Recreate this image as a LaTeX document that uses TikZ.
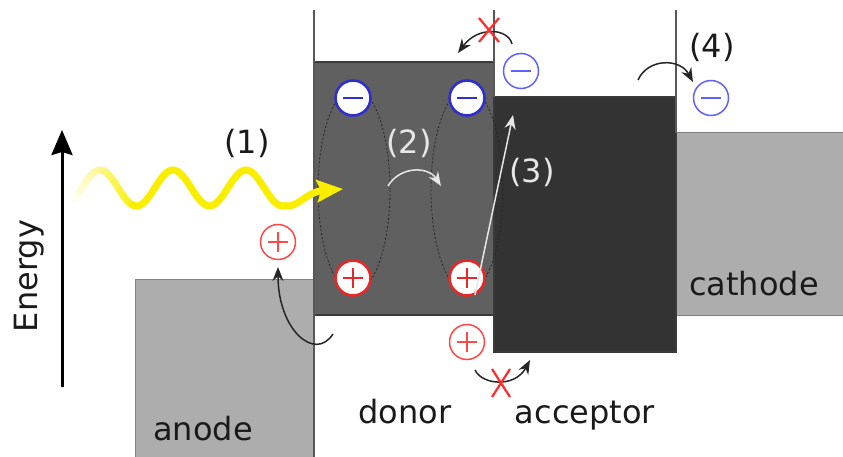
\documentclass[tikz,border=0pt]{standalone}
\usepackage{fontspec}
\setmainfont{DejaVu Sans}
\usetikzlibrary{arrows.meta}
\definecolor{donorc}{HTML}{606060}
\definecolor{accc}{HTML}{333333}
\definecolor{electrode}{HTML}{ADADAD}
\definecolor{edge}{HTML}{3A3A3A}
\definecolor{wave}{RGB}{250,238,0}
\definecolor{negc}{HTML}{2F2FD0}
\definecolor{negl}{HTML}{6060FF}
\definecolor{posc}{HTML}{E82828}
\definecolor{posl}{HTML}{FF4848}
\definecolor{lbl}{HTML}{E6E6E6}
\definecolor{txtc}{HTML}{1A1A1A}
\definecolor{crossc}{HTML}{FF2A2A}
\tikzset{
  band/.style={draw=edge, line width=1.6pt},
  wall/.style={draw=edge!85, line width=1.6pt},
  chg/.style={circle, minimum size=35pt, inner sep=0pt},
  neg/.style={chg, draw=#1, fill=white,
    path picture={\draw[#1, line width=2pt]
      ([xshift=-10pt]path picture bounding box.center) --
      ([xshift=10pt]path picture bounding box.center);}},
  pos/.style={chg, draw=#1, fill=white,
    path picture={\draw[#1, line width=2pt]
      ([xshift=-10pt]path picture bounding box.center) --
      ([xshift=10pt]path picture bounding box.center)
      ([yshift=-10pt]path picture bounding box.center) --
      ([yshift=10pt]path picture bounding box.center);}},
  inner/.style={line width=2.6pt},
  outer/.style={line width=1.5pt},
  txt/.style={font=\fontsize{32}{38}\selectfont, inner sep=0pt, text=txtc},
  wtxt/.style={txt, text=lbl},
  exciton/.style={draw=black!85, line width=0.8pt, dash pattern=on 2pt off 2pt},
  hop/.style={draw=black!85, line width=1.5pt, -{Stealth[length=14pt,width=11pt]}},
  whop/.style={draw=lbl, line width=1.5pt, -{Stealth[length=14pt,width=11pt]}},
  cross/.style={draw=crossc, line width=2.2pt},
}
\begin{document}
\begin{tikzpicture}[x=1pt,y=-1pt]
\useasboundingbox (0,0) rectangle (843,457);
\fill[white] (0,0) rectangle (843,457);
% bands
\draw[draw=electrode!75!black, line width=1pt, fill=electrode] (135,457) -- (135,279) -- (314,279) -- (314,457);
\draw[draw=electrode!75!black, line width=1pt, fill=electrode] (843,133) -- (676,133) -- (676,315) -- (843,315);
\draw[band, fill=donorc] (314,62) rectangle (494,315);
\draw[band, fill=accc] (494,97) rectangle (676,352);
% walls
\draw[wall] (314,10) -- (314,457);
\draw[wall] (494,10) -- (494,97);
\draw[wall] (676,10) -- (676,133);
% excitons
\draw[exciton] (354,190) ellipse [x radius=36, y radius=102];
\draw[exciton] (467,190) ellipse [x radius=36, y radius=102];
% charges
\node[neg=negc, inner] (n1) at (353,98) {};
\node[neg=negc, inner] (n2) at (467,98) {};
\node[pos=posc, inner] (p1) at (353,278) {};
\node[pos=posc, inner] (p2) at (467,278) {};
\node[neg=negl, outer] (n3) at (521,71) {};
\node[neg=negl, outer] (n4) at (711,98) {};
\node[pos=posl, outer] (p3) at (278,242) {};
\node[pos=posl, outer] (p4) at (467,342) {};
% energy axis
\draw[line width=3pt, black, -{Stealth[length=25pt,width=21pt,inset=3pt]}] (62,387) -- (62,130);
\node[txt, rotate=90, anchor=base] (energy) at (37,276) {Energy};
% light wave
\foreach \i in {0,...,11}{
  \pgfmathsetmacro{\p}{8+7.5*\i}
  \pgfmathsetmacro{\a}{73+5*\i}
  \pgfmathsetmacro{\b}{78.6+5*\i}
  \draw[wave!\p!white, line width=7pt] plot[domain=\a:\b, samples=6] (\x,{188-18*sin((\x-81.75)*4.93151)});
}
\draw[wave, line width=7pt, line cap=round] plot[domain=133:285, samples=80] (\x,{188-18*sin((\x-81.75)*4.93151)});
\coordinate (wend) at (285,206);
\coordinate (wtip) at (343,189);
\draw[wave, line width=7pt, -{Stealth[length=26pt,width=22pt,inset=4pt]}] (wend) .. controls (298,208) and (306,192) .. (wtip);
% labels
\node[txt] (l1) at (247,143) {(1)};
\node[wtxt] (l2) at (409,143) {(2)};
\node[wtxt] (l3) at (532,172) {(3)};
\node[txt] (l4) at (712,47) {(4)};
\node[txt, anchor=base] (anode) at (203,440) {anode};
\node[txt, anchor=base] (donor) at (405,423) {donor};
\node[txt, anchor=base] (acceptor) at (585,423) {acceptor};
\node[txt, anchor=base] (cathode) at (754,295) {cathode};
% transfer arrows
\coordinate (h2a) at (388,186);
\coordinate (h2b) at (441,186);
\draw[whop] (h2a) .. controls (400,166) and (428,166) .. (h2b);
\coordinate (h3) at (513,115);
\draw[whop] (p2.-65) -- (h3);
\coordinate (tx1) at (512,44);
\coordinate (tx2) at (458,53);
\draw[hop] (tx1) .. controls (508,28) and (478,26) .. (tx2);
\coordinate (c1) at (638,80);
\coordinate (c2) at (693,82);
\draw[hop] (c1) .. controls (648,58) and (680,58) .. (c2);
\coordinate (bx1) at (475,370);
\coordinate (bx2) at (530,360);
\draw[hop] (bx1) .. controls (482,385) and (515,388) .. (bx2);
\coordinate (an1) at (333,334);
\coordinate (an2) at (278,267);
\draw[hop] (an1) .. controls (315,362) and (278,330) .. (an2);
% crosses
\draw[cross] (479,18) -- (499,42) (499,18) -- (479,42);
\draw[cross] (492,369) -- (510,397) (510,369) -- (492,397);
\end{tikzpicture}
\end{document}
